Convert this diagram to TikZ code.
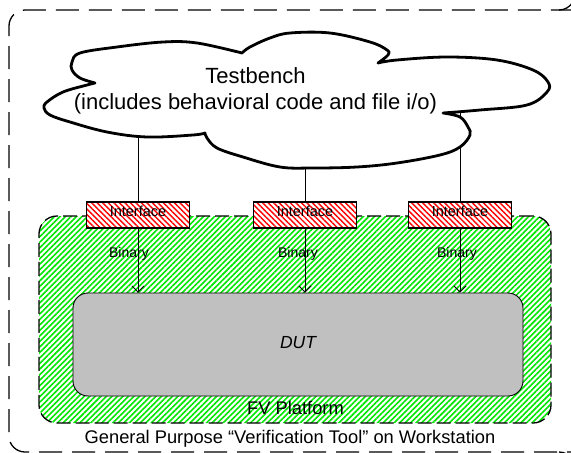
\documentclass[tikz,border=0pt]{standalone}
\usepackage{fontspec}
\setmainfont{Liberation Sans}
\usetikzlibrary{patterns.meta,arrows.meta}
\definecolor{dutgray}{RGB}{192,192,192}
\definecolor{hatchgreen}{RGB}{0,230,0}
\definecolor{hatchred}{RGB}{255,0,0}
\begin{document}
\begin{tikzpicture}[x=1pt,y=-1pt,
  frame/.style={draw, line width=1.3pt, dash pattern=on 23pt off 10pt,
    rounded corners=16pt},
  platform/.style={draw, line width=1.3pt, dash pattern=on 14pt off 5pt,
    rounded corners=18pt, inner sep=0pt,
    pattern={Lines[angle=45,distance=3.9pt,line width=1.6pt]},
    pattern color=hatchgreen},
  dutbox/.style={draw, line width=0.9pt, fill=dutgray, rounded corners=15pt,
    inner sep=0pt, font=\fontsize{17.5}{21}\selectfont\itshape},
  iface/.style={draw, line width=1.1pt, preaction={fill=white},
    pattern={Lines[angle=-45,distance=3.9pt,line width=1.4pt]},
    pattern color=hatchred, minimum width=103pt, minimum height=26pt,
    inner sep=0pt, text height=10.5pt, text depth=7pt,
    font=\fontsize{14.5}{17}\selectfont},
  cloudline/.style={draw, fill=white, line width=2.8pt, line join=round},
  conn/.style={line width=0.9pt},
  arr/.style={line width=0.9pt, -{Straight Barb[length=6pt,width=12pt]}},
  binlabel/.style={anchor=base, inner sep=0pt, font=\fontsize{14}{17}\selectfont},
  biglabel/.style={anchor=base, inner sep=0pt, font=\fontsize{18.3}{22}\selectfont}]

\path[use as bounding box, clip] (0,0) rectangle (571,453);

% workstation frame: its right side lies past the page edge,
% only the two right corners reach into view
\draw[frame] (590,452) -- (9,452) -- (9,10) -- (590,10);
\draw[line width=1.3pt] (559,10) arc[start angle=90, end angle=30, radius=16];
\draw[line width=1.3pt] (559,452) arc[start angle=-90, end angle=-30, radius=16];

% FV platform
\node[platform, minimum width=512pt, minimum height=207pt] (fv) at (295,319.5) {};

% device under test
\node[dutbox, minimum width=450pt, minimum height=103pt,
  text height=12.5pt, text depth=5.5pt] (dut) at (298,344.5) {DUT};

% interface blocks
\node[iface] (if1) at (138,215) {Interface};
\node[iface] (if2) at (305,215) {Interface};
\node[iface] (if3) at (460,215) {Interface};

% connections from the testbench (start hidden under the cloud)
\coordinate (t1) at (138,125);
\coordinate (t2) at (305,150);
\coordinate (t3) at (460,100);
\draw[conn] (t1) -- (if1.north);
\draw[conn] (t2) -- (if2.north);
\draw[conn] (t3) -- (if3.north);

% testbench cloud
\draw[cloudline]
  plot[smooth, tension=0.6] coordinates {(95,83) (80,78) (72,70) (72,62) (80,53) (117,47) (163,42) (197,43) (242,53)}
  -- plot[smooth, tension=0.6] coordinates {(242,53) (250,47) (270,38) (290,33) (330,33) (370,42) (387,50) (388,55) (378,63)}
  -- plot[smooth, tension=0.6] coordinates {(378,63) (397,60) (447,57) (497,60) (533,70) (548,82) (547,92) (527,105) (480,110) (443,113)}
  -- plot[smooth, tension=0.6] coordinates {(443,113) (460,117) (468,127) (470,135) (460,147) (440,155) (397,163) (357,167) (313,168) (280,167) (243,157) (217,148) (207,138) (205,133)}
  -- plot[smooth, tension=0.6] coordinates {(205,133) (193,135) (147,137) (107,132) (70,122) (50,115) (44,108) (47,102) (63,92) (87,85) (95,83)}
  -- cycle;
\node[inner sep=0pt, align=center, font=\fontsize{22}{26}\selectfont] (tb) at (255.5,90.4)
  {Testbench\\(includes behavioral code and file i/o)};

% labels
\node[binlabel] (b1) at (129,257.7) {Binary};
\node[binlabel] (b2) at (298,257.7) {Binary};
\node[binlabel] (b3) at (457,257.7) {Binary};
\node[biglabel] (fvlabel) at (295.5,414) {FV Platform};
\node[biglabel] (wslabel) at (290,443) {General Purpose “Verification Tool” on Workstation};

% binary links into the DUT
\draw[arr] (if1.south) -- (if1.south |- dut.north);
\draw[arr] (if2.south) -- (if2.south |- dut.north);
\draw[arr] (if3.south) -- (if3.south |- dut.north);
\end{tikzpicture}
\end{document}
